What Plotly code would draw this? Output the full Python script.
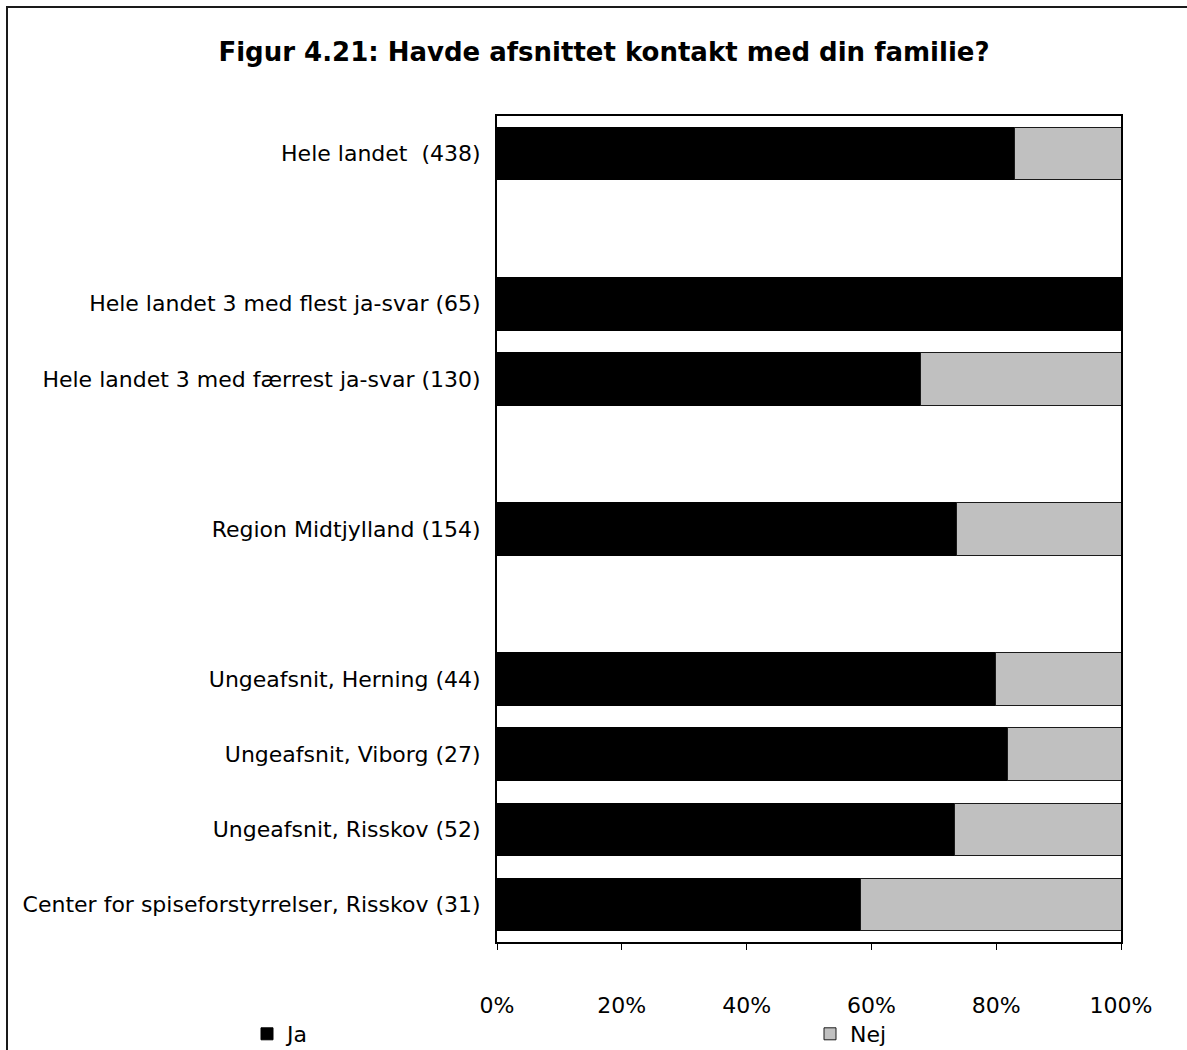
import plotly.graph_objects as go

categories = [
    "Hele landet  (438)",
    " ",
    "Hele landet 3 med flest ja-svar (65)",
    "Hele landet 3 med færrest ja-svar (130)",
    "  ",
    "Region Midtjylland (154)",
    "   ",
    "Ungeafsnit, Herning (44)",
    "Ungeafsnit, Viborg (27)",
    "Ungeafsnit, Risskov (52)",
    "Center for spiseforstyrrelser, Risskov (31)",
]
ja = [83.0, None, 100.0, 67.9, None, 73.7, None, 79.9, 81.8, 73.3, 58.3]
nej = [17.0, None, 0.0, 32.1, None, 26.3, None, 20.1, 18.2, 26.7, 41.7]
x_ticks = [0, 20, 40, 60, 80, 100]
x_tick_labels = ["0%", "20%", "40%", "60%", "80%", "100%"]

W, H = 1187, 1050
L, R, T, B = 497, 1121, 116, 942

FONT = "DejaVu Sans"

fig = go.Figure()
fig.add_trace(go.Bar(
    y=categories, x=ja, orientation="h", name="Ja",
    marker=dict(color="#000000", line=dict(color="#000000", width=1)),
    legend="legend", showlegend=True,
))
fig.add_trace(go.Bar(
    y=categories, x=nej, orientation="h", name="Nej",
    marker=dict(color="#C0C0C0", line=dict(color="#1a1a1a", width=1)),
    legend="legend2", showlegend=True,
))

def px_x(p):
    return (p - L) / (R - L)

def px_y(p):
    return (B - p) / (B - T)

fig.update_layout(
    width=W, height=H,
    margin=dict(l=L, r=W - R, t=T, b=H - B, pad=0, autoexpand=False),
    barmode="stack",
    bargap=0.3,
    plot_bgcolor="white",
    paper_bgcolor="white",
    font=dict(family=FONT, size=22, color="#000000"),
    title=dict(
        text="<b>Figur 4.21: Havde afsnittet kontakt med din familie?</b>",
        x=604 / W, xref="container", xanchor="center",
        y=1 - 52 / H, yref="container", yanchor="middle",
        font=dict(family=FONT, size=26, color="#000000"),
    ),
    xaxis=dict(
        range=[0, 100], tickvals=x_ticks, ticktext=x_tick_labels,
        showgrid=False, zeroline=False,
        showline=True, linecolor="#000000", linewidth=2, mirror=True,
        ticks="outside", ticklen=6, tickcolor="#000000", tickwidth=1,
        ticklabelstandoff=37,
        tickfont=dict(family=FONT, size=22),
    ),
    yaxis=dict(
        categoryorder="array", categoryarray=categories,
        autorange="reversed",
        showgrid=False, zeroline=False,
        showline=True, linecolor="#000000", linewidth=2, mirror=True,
        ticks="", ticklabelstandoff=10,
        tickfont=dict(family=FONT, size=22),
    ),
    legend=dict(
        x=247 / W, y=1 - 1034 / H, xref="container", yref="container",
        xanchor="left", yanchor="middle",
        orientation="h", itemwidth=30, bgcolor="rgba(0,0,0,0)",
        font=dict(family=FONT, size=22),
    ),
    legend2=dict(
        x=810 / W, y=1 - 1034 / H, xref="container", yref="container",
        xanchor="left", yanchor="middle",
        orientation="h", itemwidth=30, bgcolor="rgba(0,0,0,0)",
        font=dict(family=FONT, size=22),
    ),
    shapes=[
        dict(type="line", xref="paper", yref="paper",
             x0=px_x(7), x1=px_x(W + 5), y0=px_y(7), y1=px_y(7),
             line=dict(color="#1a1a1a", width=2)),
        dict(type="line", xref="paper", yref="paper",
             x0=px_x(7), x1=px_x(7), y0=px_y(6), y1=px_y(H + 5),
             line=dict(color="#1a1a1a", width=2)),
    ],
)

fig.write_html(
    "out.html",
    config={"displayModeBar": False},
    post_script="document.body.style.margin='0';document.body.style.overflow='hidden';",
)
